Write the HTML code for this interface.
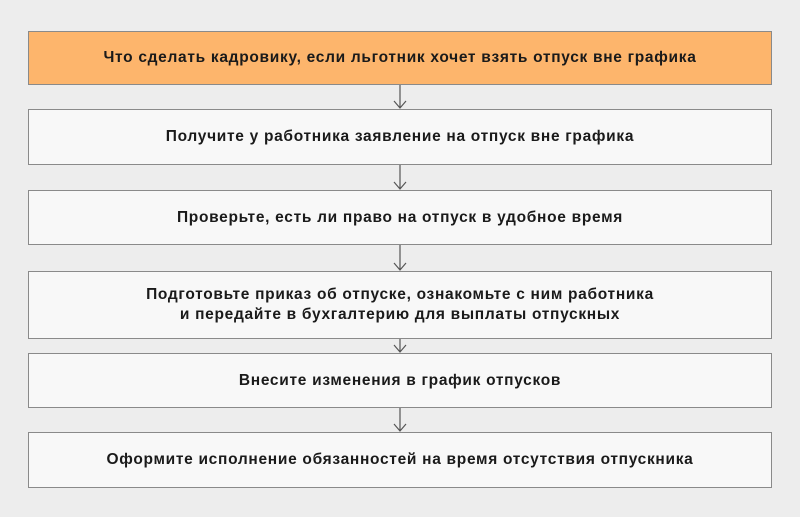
<!DOCTYPE html>
<html><head><meta charset="utf-8"><style>
body{margin:0;width:800px;height:517px;background:#ededed;position:relative;overflow:hidden;font-family:"Liberation Sans","DejaVu Sans",sans-serif;}
.b{position:absolute;left:28px;width:742px;border:1px solid #8a8a8a;background:#f8f8f8;display:flex;align-items:center;justify-content:center;text-align:center;font-weight:bold;font-size:15.5px;letter-spacing:0.7px;color:#1a1a1a;line-height:20px;}
.o{background:#fdb56c;}
</style></head><body>
<div class="b o" style="top:31px;height:52px">Что сделать кадровику, если льготник хочет взять отпуск вне графика</div>
<div class="b" style="top:109px;height:54px">Получите у работника заявление на отпуск вне графика</div>
<div class="b" style="top:190px;height:53px">Проверьте, есть ли право на отпуск в удобное время</div>
<div class="b" style="top:271px;height:66px">Подготовьте приказ об отпуске, ознакомьте с ним работника<br>и передайте в бухгалтерию для выплаты отпускных</div>
<div class="b" style="top:353px;height:53px">Внесите изменения в график отпусков</div>
<div class="b" style="top:432px;height:54px">Оформите исполнение обязанностей на время отсутствия отпускника</div>
<svg width="800" height="517" style="position:absolute;left:0;top:0" fill="none" stroke="#555" stroke-width="1.2">
<path d="M400 85V108M394 101L400 108L406 101"/>
<path d="M400 165V189M394 182L400 189L406 182"/>
<path d="M400 245V270M394 263L400 270L406 263"/>
<path d="M400 339V352M394 345L400 352L406 345"/>
<path d="M400 408V431M394 424L400 431L406 424"/>
</svg>
</body></html>
